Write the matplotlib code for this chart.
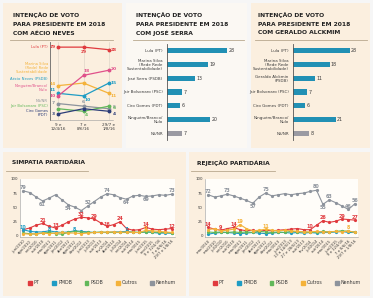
import matplotlib
matplotlib.use('Agg')
import matplotlib.pyplot as plt
from matplotlib.patches import Rectangle
from matplotlib.lines import Line2D
import numpy as np

plt.rcParams['font.family'] = ['DejaVu Sans']

W, H = 373, 298

# --- Top left: line chart with Aécio Neves ---
aecio_dates = ['9 e\n12/4/16', '7 e\n8/6/16', '29/7 e\n1/8/16']
aecio_names = ['Lula (PT)', 'Marina Silva\n(Rede) Rede\nSustentabilidade', 'Aécio Neves (PSDB)',
               'Ninguém/Branco/\nNulo', 'NS/NR', 'Jair Bolsonaro (PSC)', 'Ciro Gomes\n(PDT)']
lula_a = [29, 29, 28]
marina_a = [14, 15, 11]
aecio_a = [11, 10, 15]
nulo_a = [10, 18, 20]
nsnr_a = [7, 6, 5]
bolso_a = [5, 4, 6]
ciro_a = [3, 5, 4]

# --- Top middle / right: bar charts ---
serra_names = ['Lula (PT)', 'Marina Silva\n(Rede Rede\nSustentabilidade)', 'José Serra (PSDB)',
               'Jair Bolsonaro (PSC)', 'Ciro Gomes (PDT)', 'Ninguém/Branco/\nNulo', 'NS/NR']
serra_vals = [28, 19, 13, 7, 6, 20, 7]
alck_names = ['Lula (PT)', 'Marina Silva\n(Rede Rede\nSustentabilidade)', 'Geraldo Alckmin\n(PSDB)',
              'Jair Bolsonaro (PSC)', 'Ciro Gomes (PDT)', 'Ninguém/Branco/\nNulo', 'NS/NR']
alck_vals = [28, 18, 11, 7, 6, 21, 8]

# --- Bottom: party sympathy / rejection ---
simp_dates = ['jun/2010', 'ago/2010', 'set/2010', 'out/2010', 'mar/2011', 'ago/2011',
              'jan/2012', 'abr/2012', 'ago/2012', 'dez/2012', 'jun/2013', 'jul/2013',
              'out/2013', 'fev/2014', 'abr/2014', 'jul/2014', 'set/2014', 'out/2014',
              'mar/2015', 'jun/2015', 'nov/2015', '9 e 12/4/16', '7 e 8/6/16', '29/7 e 1/8/16']
simp_pt = [10, 13, 18, 21, 16, 13, 18, 24, 29, 32, 31, 29, 22, 16, 19, 24, 12, 9, 10, 14, 11, 10, 11, 12]
simp_pmdb = [10, 7, 6, 6, 8, 6, 5, 6, 8, 7, 6, 5, 5, 5, 6, 6, 7, 5, 5, 6, 5, 4, 4, 4]
simp_psdb = [4, 3, 2, 4, 5, 3, 2, 5, 7, 6, 5, 5, 6, 5, 5, 5, 5, 6, 5, 6, 6, 5, 5, 4]
simp_outros = [3, 2, 3, 4, 3, 4, 5, 4, 4, 3, 4, 5, 5, 6, 6, 5, 6, 5, 5, 9, 8, 7, 6, 5]
simp_nenhum = [79, 76, 68, 61, 66, 72, 63, 54, 50, 44, 52, 60, 68, 74, 72, 67, 64, 70, 71, 69, 70, 72, 71, 73]

rej_dates = ['mar/2010', 'mai/2010', 'jul/2010', 'set/2010', 'out/2010', 'mar/2011',
             'ago/2011', 'jan/2012', 'abr/2012', 'ago/2012', 'dez/2012', 'mar/2013',
             'jun/2013', '13 a 14/6/13', '27 e 28/6/13', 'out/2013', 'fev/2014', 'jul/2014',
             'out/2014', 'mar/2015', 'jun/2015', '9 e 12/4/16', '7 e 8/6/16', '29/7 e 1/8/16']
rej_pt = [14, 11, 9, 12, 14, 10, 8, 9, 7, 9, 8, 9, 10, 11, 12, 10, 10, 18, 26, 23, 25, 29, 28, 27]
rej_pmdb = [2, 4, 5, 5, 4, 3, 4, 5, 4, 3, 4, 5, 5, 4, 5, 4, 5, 4, 5, 5, 6, 7, 5, 5]
rej_psdb = [6, 5, 6, 5, 6, 5, 6, 5, 7, 6, 5, 6, 5, 7, 6, 6, 5, 6, 7, 6, 7, 8, 7, 6]
rej_outros = [10, 12, 8, 9, 11, 19, 12, 8, 9, 11, 9, 8, 9, 8, 7, 6, 6, 7, 6, 6, 7, 6, 8, 5]
rej_nenhum = [72, 68, 70, 73, 70, 66, 62, 57, 68, 75, 70, 72, 74, 72, 74, 75, 78, 80, 55, 63, 58, 52, 46, 56]

CREAM = '#fbefdf'
RED = '#e03a3e'
TEAL = '#1f9cc4'
GREEN = '#62b85a'
ORANGE = '#f4b23a'
GREY = '#8d939c'
PINK = '#e0508a'
NAVY = '#2b3c78'
BAR = '#2190b4'
TXT = '#3a3a3a'


def rect(x0, y0, x1, y1):
    return [x0 / W, 1 - y1 / H, (x1 - x0) / W, (y1 - y0) / H]


def panel(fig, x0, y0, x1, y1, color):
    fig.add_artist(Rectangle((x0 / W, 1 - y1 / H), (x1 - x0) / W, (y1 - y0) / H,
                             transform=fig.transFigure, facecolor=color, edgecolor='none', zorder=0))


def title(fig, x, y, lines, ux1):
    for i, t in enumerate(lines):
        fig.text(x / W, 1 - (y + i * 9) / H, t, fontsize=4.3, fontweight='bold',
                 color='#222222', va='center', ha='left')
    y_line = y + (len(lines) - 1) * 9 + 7
    fig.add_artist(Line2D([(x - 3) / W, ux1 / W], [1 - y_line / H] * 2,
                          transform=fig.transFigure, color='#b9a88e', lw=0.6))


fig = plt.figure(figsize=(W / 100, H / 100), dpi=100)
fig.patch.set_facecolor('#f6f6f6')

panel(fig, 3, 3, 122, 148, CREAM)
panel(fig, 126, 3, 247, 148, '#fbf8f3')
panel(fig, 251, 3, 370, 148, CREAM)
panel(fig, 3, 152, 186, 296, CREAM)
panel(fig, 189, 152, 370, 296, CREAM)

title(fig, 13, 15, ['INTENÇÃO DE VOTO', 'PARA PRESIDENTE EM 2018', 'COM AÉCIO NEVES'], 113)
title(fig, 136, 15, ['INTENÇÃO DE VOTO', 'PARA PRESIDENTE EM 2018', 'COM JOSÉ SERRA'], 244)
title(fig, 258, 15, ['INTENÇÃO DE VOTO', 'PARA PRESIDENTE EM 2018', 'COM GERALDO ALCKMIM'], 367)

# ---------- top left line chart ----------
ax = fig.add_axes(rect(50, 42, 113, 120))
ax.set_facecolor('none')
x = np.arange(len(aecio_dates))
series = [(lula_a, RED), (marina_a, ORANGE), (aecio_a, TEAL), (nulo_a, PINK),
          (nsnr_a, GREY), (bolso_a, GREEN), (ciro_a, NAVY)]
for vals, c in series:
    ax.plot(x, vals, color=c, lw=0.9, marker='o', ms=1.8)
for xi in x:
    ax.axvline(xi, color='#d8d0c4', lw=0.4, zorder=0)
ax.set_xlim(-0.32, 2.16)
ax.set_ylim(0.6, 31)
ax.set_xticks(x)
ax.set_xticklabels(aecio_dates, fontsize=3.0, color=TXT, linespacing=1.0)
ax.tick_params(length=0, pad=2)
ax.set_yticks([])
for s in ['top', 'right']:
    ax.spines[s].set_visible(False)
ax.spines['left'].set_color('#666666')
ax.spines['left'].set_linewidth(0.6)
ax.spines['bottom'].set_color('#999999')
ax.spines['bottom'].set_linewidth(0.4)
# (series index, point index, dx, dy) for the value labels
point_labels = [(0, 0, -0.2, 0), (0, 1, 0, -1.8), (0, 2, 0.2, 0),
                (1, 0, -0.2, 14.6 - 14), (1, 2, 0.2, -1.0),
                (2, 0, -0.2, 12.3 - 11), (2, 1, 0.15, -1.6), (2, 2, 0.2, 0),
                (3, 0, -0.2, 10.0 - 10), (3, 1, 0.1, 1.6), (3, 2, 0.2, 0.6),
                (4, 0, -0.2, 7.4 - 7), (4, 1, 0, 1.6), (4, 2, 0.2, 0.8),
                (5, 1, 0.1, -1.6), (5, 2, 0.2, -0.6),
                (6, 0, -0.2, 0), (6, 2, 0.2, -1.2)]
for si, pi, dx, dy in point_labels:
    vals, c = series[si]
    ax.text(pi + dx, vals[pi] + dy, str(vals[pi]), fontsize=3.2, color=c,
            ha='center', va='center', fontweight='bold')
name_y = [29, 21, 16.5, 13.2, 8, 6, 3.2]
name_c = [RED, ORANGE, TEAL, PINK, GREY, GREEN, NAVY]
for n, yy, c in zip(aecio_names, name_y, name_c):
    ax.text(-0.4, yy, n, fontsize=2.7, color=c, ha='right', va='center', linespacing=0.95)


# ---------- bar charts ----------
def bars(x0, x1, xmax, names, vals):
    ax = fig.add_axes(rect(x0, 44, x1, 140))
    ax.set_facecolor('none')
    y = np.arange(len(names))
    colors = [BAR] * (len(names) - 1) + ['#9a9aa2']
    ax.barh(y, vals, height=0.38, color=colors)
    ax.set_ylim(len(names) - 0.5, -0.5)
    ax.set_xlim(0, xmax)
    ax.set_yticks(y)
    ax.set_yticklabels(names, fontsize=2.9, color=TXT, linespacing=0.95)
    ax.tick_params(length=0, pad=3)
    ax.set_xticks([])
    for s in ['top', 'right', 'bottom']:
        ax.spines[s].set_visible(False)
    ax.spines['left'].set_color('#555555')
    ax.spines['left'].set_linewidth(0.6)
    for yi, v in zip(y, vals):
        ax.text(v + 0.6, yi, str(v), fontsize=3.4, color=TXT, va='center', ha='left')


bars(167, 241, 34.5, serra_names, serra_vals)
bars(293, 366, 36, alck_names, alck_vals)


# ---------- bottom line charts ----------
def party_chart(x0, x1, dates, pt, pmdb, psdb, outros, nenhum, name, tx, ux1, lx0, labels):
    fig.text(tx / W, 1 - 163 / H, name, fontsize=4.3, fontweight='bold', color='#222222',
             va='center', ha='left')
    fig.add_artist(Line2D([(tx - 6) / W, ux1 / W], [1 - 171 / H] * 2,
                          transform=fig.transFigure, color='#b9a88e', lw=0.6))
    ax = fig.add_axes(rect(x0, 179, x1, 237))
    ax.set_facecolor('#fffdf9')
    xs = np.arange(len(dates))
    data = [('PT', pt, RED), ('PMDB', pmdb, TEAL), ('PSDB', psdb, GREEN),
            ('Outros', outros, ORANGE), ('Nenhum', nenhum, GREY)]
    for lab, vals, c in data:
        ax.plot(xs, vals, color=c, lw=0.8, marker='o', ms=1.3, label=lab)
    ax.set_xlim(-0.5, len(dates) - 0.5)
    ax.set_ylim(-3, 100)
    ax.set_yticks([0, 25, 50, 75, 100])
    ax.set_yticklabels(['0', '25', '50', '75', '100'], fontsize=2.8, color=TXT)
    ax.set_xticks(xs)
    ax.set_xticklabels(dates, fontsize=2.7, rotation=45, ha='right', rotation_mode='anchor',
                       color=TXT)
    ax.tick_params(length=0, pad=1.5)
    for s in ['top', 'right']:
        ax.spines[s].set_visible(False)
    ax.spines['left'].set_color('#999999')
    ax.spines['left'].set_linewidth(0.4)
    ax.spines['bottom'].set_color('#999999')
    ax.spines['bottom'].set_linewidth(0.4)
    cmap = {'PT': RED, 'PMDB': TEAL, 'PSDB': GREEN, 'Outros': ORANGE, 'Nenhum': GREY}
    dmap = {'PT': pt, 'PMDB': pmdb, 'PSDB': psdb, 'Outros': outros, 'Nenhum': nenhum}
    for party, idx, dy in labels:
        v = dmap[party][idx]
        ax.text(idx, v + dy, str(v), fontsize=3.5, color=cmap[party], ha='center',
                va='center', fontweight='bold')
    ax.legend(loc='center left', bbox_to_anchor=(lx0 / W, 1 - 283 / H),
              bbox_transform=fig.transFigure, ncol=5, frameon=False, fontsize=3.4,
              handles=[Rectangle((0, 0), 1, 1, color=c) for _, _, c in data],
              labels=[d[0] for d in data], handlelength=0.8, handleheight=0.8,
              handletextpad=0.4, columnspacing=2.7, labelcolor=TXT)


party_chart(20, 175, simp_dates, simp_pt, simp_pmdb, simp_psdb, simp_outros, simp_nenhum,
            'SIMPATIA PARTIDÁRIA', 12, 88, 24,
            [('Nenhum', 0, 6), ('Nenhum', 3, -6), ('Nenhum', 7, -6), ('Nenhum', 10, 6),
             ('Nenhum', 13, 6), ('Nenhum', 16, -6), ('Nenhum', 19, -6), ('Nenhum', 23, 6),
             ('PT', 3, 5), ('PT', 5, 5), ('PT', 9, 5), ('PT', 11, 5), ('PT', 13, 4),
             ('PT', 15, 5), ('PT', 19, 5), ('PT', 23, 4), ('PMDB', 0, 3), ('PMDB', 4, 3),
             ('PMDB', 8, 3), ('PMDB', 16, 3), ('Outros', 19, 3)])

party_chart(205, 358, rej_dates, rej_pt, rej_pmdb, rej_psdb, rej_outros, rej_nenhum,
            'REJEIÇÃO PARTIDÁRIA', 197, 275, 209,
            [('Nenhum', 0, 6), ('Nenhum', 3, 6), ('Nenhum', 7, -6), ('Nenhum', 9, 6),
             ('Nenhum', 17, 6), ('Nenhum', 18, -6), ('Nenhum', 19, 6), ('Nenhum', 22, 6),
             ('Nenhum', 23, 6), ('PT', 0, 5), ('PT', 2, 5), ('PT', 4, 5), ('PT', 16, 5),
             ('PT', 18, 5), ('PT', 21, 5), ('PT', 23, 5), ('Outros', 5, 5),
             ('Outros', 9, 5), ('Outros', 22, 5)])

fig.savefig('out.png', dpi=100, facecolor=fig.get_facecolor())
